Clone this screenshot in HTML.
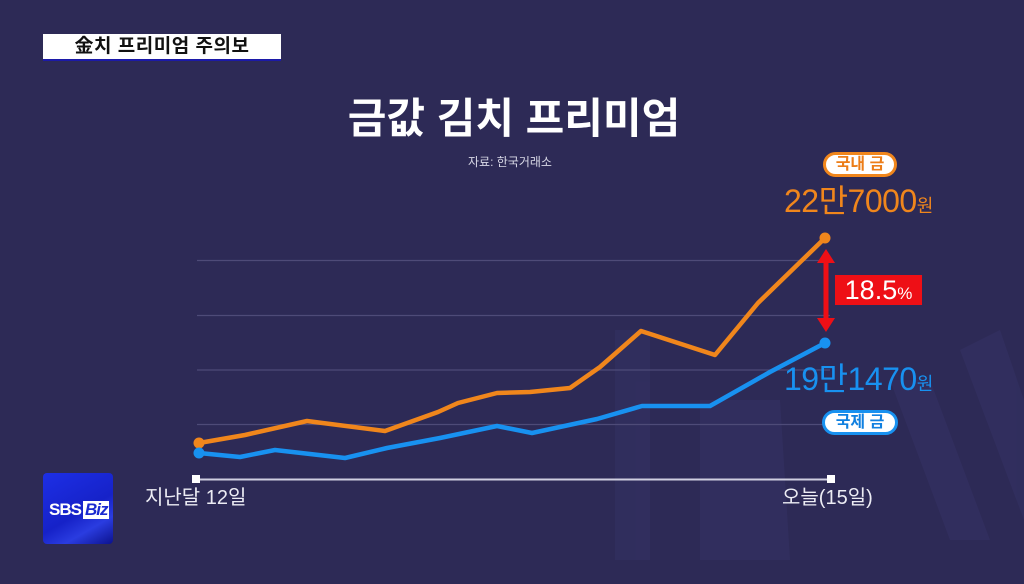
<!DOCTYPE html>
<html><head><meta charset="utf-8">
<style>
html,body{margin:0;padding:0;}
body{width:1024px;height:584px;overflow:hidden;background:#2d2a56;position:relative;font-family:"Liberation Sans","Noto Sans CJK KR",sans-serif;}
.banner{position:absolute;left:43px;top:34px;width:238px;height:25px;background:#fff;border-bottom:2px solid #1c1aa8;text-align:center;font-size:19px;font-weight:bold;color:#111;line-height:25px;letter-spacing:0.5px;}
.title{position:absolute;left:0;width:1024px;top:92px;text-align:center;font-size:42px;font-weight:bold;color:#fff;line-height:54px;padding-left:2px;}
.src{position:absolute;left:468px;top:154px;font-size:12px;color:#d8d8e6;line-height:16px;}
.logo{position:absolute;left:43px;top:473px;width:70px;height:71px;border-radius:4px;background:linear-gradient(150deg,#1d2fe6 0%,#1622c8 55%,#2a3ce0 75%,#0c128e 100%);}
.logo .t{position:absolute;left:6px;top:28px;font-size:17px;font-weight:bold;color:#fff;line-height:18px;letter-spacing:-1px;}
.logo .b{display:inline-block;background:#fff;color:#1a2ad0;padding:0 2px;margin-left:2px;font-style:italic;}
.lbl{position:absolute;font-size:20px;color:#ececf4;line-height:22px;}
.pill{position:absolute;background:#fff;border-radius:13px;font-size:16px;font-weight:bold;text-align:center;line-height:20px;box-sizing:border-box;}
.val{position:absolute;font-size:32px;line-height:34px;letter-spacing:-0.5px;}
.val small{font-size:18px;}
.pct{position:absolute;left:835px;top:275px;width:87px;height:30px;background:#ee0f16;color:#fff;font-size:27px;line-height:30px;text-align:center;}
.pct small{font-size:17px;}
</style></head><body>
<svg width="1024" height="584" style="position:absolute;left:0;top:0">
  <g opacity="0.07" fill="#6a6ac8">
    <polygon points="615,330 650,330 650,560 615,560"/>
    <polygon points="700,400 780,400 790,560 700,560"/>
    <polygon points="890,380 930,380 990,540 950,540"/>
    <polygon points="960,350 1000,330 1024,400 1024,520"/>
  </g>
  <g stroke="#4e4b78" stroke-width="1.3">
    <line x1="197" y1="260.5" x2="830" y2="260.5"/>
    <line x1="197" y1="315.5" x2="830" y2="315.5"/>
    <line x1="197" y1="370" x2="830" y2="370"/>
    <line x1="197" y1="424.5" x2="830" y2="424.5"/>
  </g>
  <line x1="196" y1="479.5" x2="831" y2="479.5" stroke="#cfcfe0" stroke-width="2"/>
  <rect x="192" y="475" width="8" height="8" fill="#fff"/>
  <rect x="827" y="475" width="8" height="8" fill="#fff"/>
  <polyline fill="none" stroke="#f0861c" stroke-width="4.5" stroke-linejoin="round" stroke-linecap="round"
    points="199,443 245,435 307,421 385,431 438,412 458,403 497,393 530,392 570,388 600,367 641,331 715,355 758,303 825,238"/>
  <circle cx="199" cy="443" r="5.5" fill="#f0861c"/>
  <circle cx="825" cy="238" r="5.5" fill="#f0861c"/>
  <polyline fill="none" stroke="#1891f0" stroke-width="4.5" stroke-linejoin="round" stroke-linecap="round"
    points="199,453 240,457 275,450 345,458 387,448 440,438 497,426 532,433 597,419 642,406 710,406 770,372 825,343"/>
  <circle cx="199" cy="453" r="5.5" fill="#1891f0"/>
  <circle cx="825" cy="343" r="5.5" fill="#1891f0"/>
  <g fill="#ee0f16">
    <rect x="823.5" y="258" width="5" height="66"/>
    <polygon points="826,249 835,263 817,263"/>
    <polygon points="826,332 835,318 817,318"/>
  </g>
</svg>
<div class="banner">金치 프리미엄 주의보</div>
<div class="title">금값 김치 프리미엄</div>
<div class="src">자료: 한국거래소</div>
<div class="pill" style="left:823px;top:152px;width:74px;height:25px;border:3px solid #f0861c;color:#ec7d18;">국내 금</div>
<div class="val" style="left:784px;top:184px;color:#f0861c;">22만7000<small>원</small></div>
<div class="pct">18.5<small>%</small></div>
<div class="val" style="left:784px;top:362px;color:#1891f0;">19만1470<small>원</small></div>
<div class="pill" style="left:822px;top:410px;width:76px;height:25px;border:3px solid #1891f0;color:#1080e0;">국제 금</div>
<div class="lbl" style="left:145px;top:487px;">지난달 12일</div>
<div class="lbl" style="left:782px;top:487px;">오늘(15일)</div>
<div class="logo"><div class="t">SBS<span class="b">Biz</span></div></div>
</body></html>
